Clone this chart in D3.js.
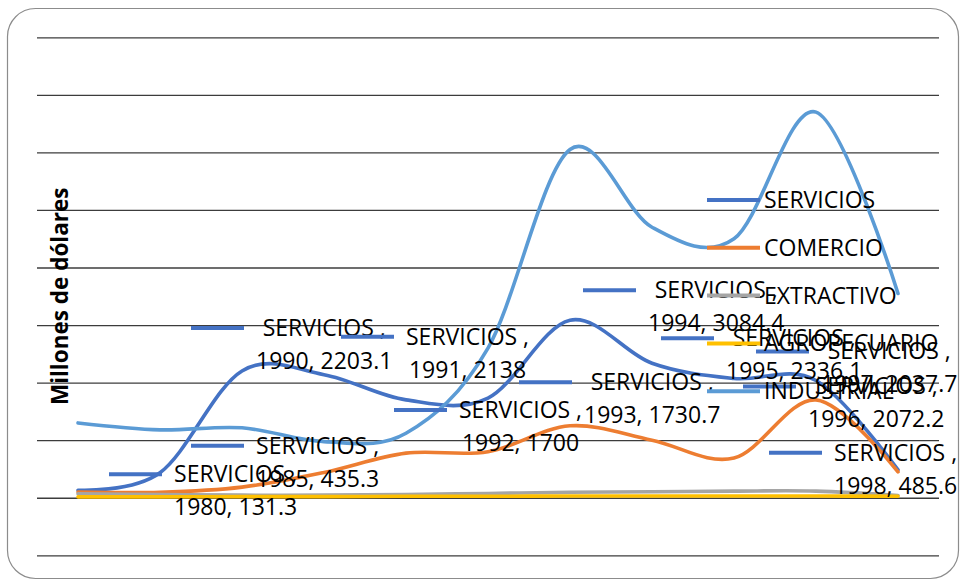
<!DOCTYPE html>
<html>
<head>
<meta charset="utf-8">
<script src="https://cdn.jsdelivr.net/npm/d3@7"></script>
<style>
  body { margin: 0; background: #fff; }
  text { font-family: "Open Sans", sans-serif; }
</style>
</head>
<body>
<div id="chart"></div>
<script>
// data
var years = ["1980", "1985", "1990", "1991", "1992", "1993", "1994", "1995", "1996", "1997", "1998"];
var servicios = [131.3, 435.3, 2203.1, 2138, 1700, 1730.7, 3084.4, 2336.1, 2072.2, 2037.7, 485.6];
var comercio = [100, 95, 185, 440, 775, 800, 1250, 1000, 690, 1700, 450];
var extractivo = [70, 55, 45, 45, 55, 75, 95, 105, 115, 115, 40];
var agropecuario = [15, 15, 20, 20, 25, 25, 30, 30, 30, 30, 25];
var industrial = [1300, 1180, 1215, 975, 1120, 2600, 6050, 4700, 4500, 6700, 3550];
var seriesNames = ["SERVICIOS", "COMERCIO", "EXTRACTIVO", "AGROPECUARIO", "INDUSTRIAL"];
var seriesColors = ["#4472C4", "#ED7D31", "#A5A5A5", "#FFC000", "#5B9BD5"];
var yTicks = [-1000, 0, 1000, 2000, 3000, 4000, 5000, 6000, 7000, 8000];

// manual placement of the SERVICIOS data labels (key start, relative to the point)
var labelOffsets = [[31, -16], [31, -27], [-51, -43], [17, -38], [-12, 10], [31, -16],
                    [13, -30], [9, -25], [9, 8], [-60, -29], [-129, -17]];

var width = 960, height = 580;
var plot = {left: 37, right: 939, top: 37.3, bottom: 555.3};

var svg = d3.select("#chart").append("svg")
  .attr("width", width)
  .attr("height", height);

// outer frame
svg.append("rect")
  .attr("x", 7.5)
  .attr("y", 8.5)
  .attr("width", 951)
  .attr("height", 570)
  .attr("rx", 28)
  .attr("fill", "#fff")
  .attr("stroke", "#8c8c8c")
  .attr("stroke-width", 1.2);

var x = d3.scalePoint()
  .domain(years)
  .range([plot.left, plot.right])
  .padding(0.5);

var y = d3.scaleLinear()
  .domain([-1000, 8000])
  .range([plot.bottom, plot.top]);

//gridlines, no tick labels
var grid = svg.append("g")
  .attr("transform", "translate(" + plot.left + ",0)")
  .call(d3.axisLeft(y)
    .tickValues(yTicks)
    .tickSize(-(plot.right - plot.left))
    .tickFormat(""));
grid.select(".domain").remove();
grid.selectAll(".tick line")
  .attr("stroke", "#3c3c3c")
  .attr("stroke-width", 1.3);

// y title
svg.append("text")
  .attr("transform", "translate(68," + ((plot.top + plot.bottom) / 2) + ") rotate(-90)")
  .attr("text-anchor", "middle")
  .style("font-weight", "bold")
  .style("font-size", "22.5px")
  .text("Millones de dólares");

var allSeries = [servicios, comercio, extractivo, agropecuario, industrial];

var line = d3.line()
  .x(function(d, i) { return x(years[i]); })
  .y(function(d) { return y(d); })
  .curve(d3.curveCatmullRom.alpha(0));

svg.append("g").selectAll("path")
  .data(allSeries)
  .enter()
  .append("path")
  .attr("d", line)
  .attr("fill", "none")
  .attr("stroke", function(d, i) { return seriesColors[i]; })
  .attr("stroke-width", 3.6)
  .attr("stroke-linecap", "round");

// data labels for SERVICIOS, with legend key
var labels = svg.append("g").selectAll("g")
  .data(servicios)
  .enter()
  .append("g")
  .attr("transform", function(d, i) {
    var px = x(years[i]) + labelOffsets[i][0];
    var py = y(d) + labelOffsets[i][1];
    return "translate(" + px + "," + py + ")";
  });

labels.append("line")
  .attr("x1", 0)
  .attr("x2", 53)
  .attr("y1", 0)
  .attr("y2", 0)
  .attr("stroke", seriesColors[0])
  .attr("stroke-width", 4);

labels.each(function(d, i) {
  var g = d3.select(this);
  var l1 = g.append("text")
    .attr("text-anchor", "middle")
    .attr("y", 8)
    .style("font-size", "23px")
    .text("SERVICIOS ,");
  var l2 = g.append("text")
    .attr("text-anchor", "middle")
    .attr("y", 41)
    .style("font-size", "23px")
    .text(years[i] + ", " + d);
  var w = Math.max(l1.node().getComputedTextLength(), l2.node().getComputedTextLength());
  l1.attr("x", 65 + w / 2);
  l2.attr("x", 65 + w / 2);
});

// legend
var legend = svg.append("g").selectAll("g")
  .data(seriesNames)
  .enter()
  .append("g")
  .attr("transform", function(d, i) { return "translate(707," + (200 + i * 47.8) + ")"; });

legend.append("line")
  .attr("x1", 0)
  .attr("x2", 53)
  .attr("stroke", function(d, i) { return seriesColors[i]; })
  .attr("stroke-width", 4);

legend.append("text")
  .attr("x", 57)
  .attr("y", 8)
  .style("font-size", "23px")
  .text(function(d) { return d; });
</script>
</body>
</html>
